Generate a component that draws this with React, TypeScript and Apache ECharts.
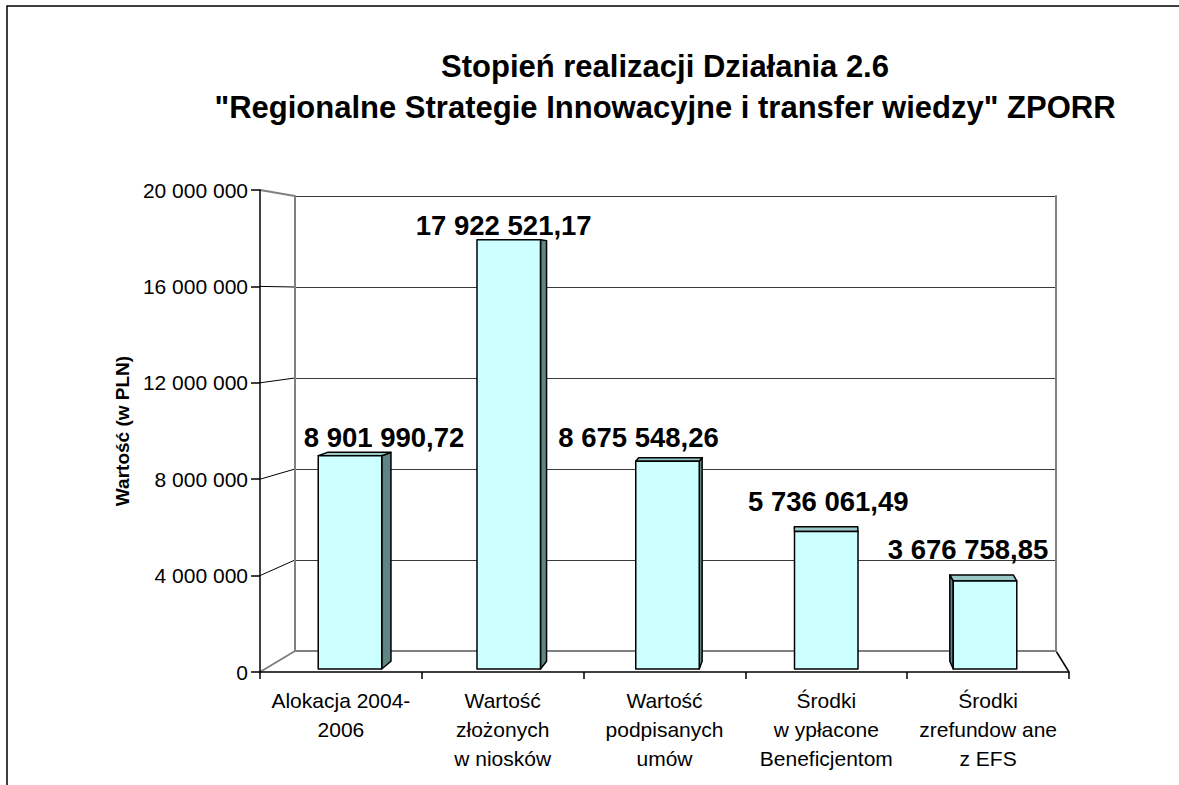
import React, { useEffect, useRef } from "react";
import * as echarts from "echarts";

// ---- data ----
const categories = [
  "Alokacja 2004-\n2006",
  "Wartość\nzłożonych\nw niosków",
  "Wartość\npodpisanych\numów",
  "Środki\nw ypłacone\nBeneficjentom",
  "Środki\nzrefundow ane\nz EFS",
];
const values = [8901990.72, 17922521.17, 8675548.26, 5736061.49, 3676758.85];
const yTicks = [0, 4000000, 8000000, 12000000, 16000000, 20000000];
const Y_MIN = 0;
const Y_MAX = 20000000;
const Y_INTERVAL = 4000000;
const TITLE =
  'Stopień realizacji Działania 2.6\n"Regionalne Strategie Innowacyjne i transfer wiedzy" ZPORR';
const Y_NAME = "Wartość (w PLN)";

// ---- styling / layout ----
const W = 1179;
const H = 785;
const FONT = "'Liberation Sans', Arial, sans-serif";
const GRID_FRONT = { left: 260, right: W - 1069, top: 190, bottom: H - 672 };
const GRID_BACK = { left: 295, right: W - 1056, top: 196, bottom: H - 651 };
const GRID_BARS = { left: 270.6, right: 114.6, top: 190, bottom: H - 669 };
const LABEL_DX = [34, -5, -29, 2, -17];
const LABEL_DY = [-18, -14, -24, -30, -31];
const VP_X = 812;
const VP_Y = 283;
const DEPTH_K = 0.02;
const FRONT_COLOR = "#CCFFFF";
const SIDE_COLOR = "#5F8585";
const TOP_COLOR = "#99C8C8";
const EDGE_GRAY = "#808080";

function groupInt(s: string) {
  return s.replace(/\B(?=(\d{3})+(?!\d))/g, " ");
}
function fmtTick(v: number) {
  return groupInt(String(Math.round(v)));
}
function fmtValue(v: number) {
  const [i, d] = v.toFixed(2).split(".");
  return groupInt(i) + "," + d;
}

export default function App() {
  const ref = useRef<HTMLDivElement>(null);
  useEffect(() => {
    if (!ref.current) return;
    const chart = echarts.init(ref.current, null, { renderer: "svg" });
    const hiddenAxis = {
      axisLine: { show: false },
      axisTick: { show: false },
      axisLabel: { show: false },
      splitLine: { show: false },
    };
    const option: any = {
      animation: false,
      backgroundColor: "#ffffff",
      title: {
        text: TITLE,
        left: 660,
        top: 41,
        textAlign: "center",
        textStyle: {
          fontFamily: FONT,
          fontSize: 31,
          fontWeight: "bold",
          color: "#000",
          lineHeight: 41,
        },
      },
      grid: [
        { ...GRID_FRONT },
        { ...GRID_BACK },
        { ...GRID_BARS },
      ],
      xAxis: [
        {
          gridIndex: 0,
          type: "category",
          data: categories,
          boundaryGap: true,
          axisLine: { show: true, lineStyle: { color: "#000", width: 1.5 } },
          axisTick: { show: true, length: 7, lineStyle: { color: "#000", width: 1.5 } },
          axisLabel: {
            fontFamily: FONT,
            fontSize: 21,
            color: "#000",
            lineHeight: 29,
            margin: 14,
            interval: 0,
          },
          splitLine: { show: false },
        },
        {
          gridIndex: 1,
          type: "category",
          data: categories,
          position: "bottom",
          ...hiddenAxis,
          axisLine: { show: true, lineStyle: { color: EDGE_GRAY, width: 2 } },
        },
        {
          gridIndex: 1,
          type: "category",
          data: categories,
          position: "top",
          ...hiddenAxis,
          axisLine: { show: true, lineStyle: { color: EDGE_GRAY, width: 2 } },
        },
        {
          gridIndex: 2,
          type: "category",
          data: categories,
          show: false,
        },
      ],
      yAxis: [
        {
          gridIndex: 0,
          type: "value",
          min: Y_MIN,
          max: Y_MAX,
          interval: Y_INTERVAL,
          name: Y_NAME,
          nameLocation: "middle",
          nameGap: 122,
          nameRotate: 90,
          nameTextStyle: {
            fontFamily: FONT,
            fontSize: 19,
            fontWeight: "bold",
            color: "#000",
          },
          axisLine: { show: true, lineStyle: { color: "#000", width: 1.5 } },
          axisTick: { show: true, length: 9, lineStyle: { color: "#000", width: 1.5 } },
          axisLabel: {
            fontFamily: FONT,
            fontSize: 21,
            color: "#000",
            margin: 12,
            formatter: (v: number) => fmtTick(v),
          },
          splitLine: { show: false },
        },
        {
          gridIndex: 1,
          type: "value",
          min: Y_MIN,
          max: Y_MAX,
          interval: Y_INTERVAL,
          position: "left",
          axisLine: { show: true, lineStyle: { color: EDGE_GRAY, width: 2 } },
          axisTick: { show: false },
          axisLabel: { show: false },
          splitLine: { show: true, lineStyle: { color: "#3a3a3a", width: 1 } },
        },
        {
          gridIndex: 1,
          type: "value",
          min: Y_MIN,
          max: Y_MAX,
          interval: Y_INTERVAL,
          position: "right",
          axisLine: { show: true, lineStyle: { color: EDGE_GRAY, width: 2 } },
          axisTick: { show: false },
          axisLabel: { show: false },
          splitLine: { show: false },
        },
        {
          gridIndex: 2,
          type: "value",
          min: Y_MIN,
          max: Y_MAX,
          interval: Y_INTERVAL,
          show: false,
        },
      ],
      series: [
        {
          type: "custom",
          xAxisIndex: 3,
          yAxisIndex: 3,
          data: values.map((v, i) => [i, v]),
          z: 5,
          renderItem: (params: any, api: any) => {
            const i = api.value(0);
            const v = api.value(1);
            const top = api.coord([i, v]);
            const base = api.coord([i, 0]);
            const w = api.size([1, 0])[0] * 0.4;
            const xl = top[0] - w / 2;
            const xr = top[0] + w / 2;
            const yt = top[1];
            const yb = base[1];
            const dx = DEPTH_K * (VP_X - top[0]);
            const dy = DEPTH_K * (VP_Y - yt);
            const dyb = DEPTH_K * (VP_Y - yb);
            const stroke = { stroke: "#000", lineWidth: 1.5, lineJoin: "round" };
            const children: any[] = [];
            if (dx > 0.5) {
              children.push({
                type: "polygon",
                shape: { points: [[xr, yt], [xr + dx, yt + dy], [xr + dx, yb + dyb], [xr, yb]] },
                style: { fill: SIDE_COLOR, ...stroke },
              });
            } else if (dx < -0.5) {
              children.push({
                type: "polygon",
                shape: { points: [[xl, yt], [xl + dx, yt + dy], [xl + dx, yb + dyb], [xl, yb]] },
                style: { fill: SIDE_COLOR, ...stroke },
              });
            }
            if (dy < -0.5) {
              children.push({
                type: "polygon",
                shape: { points: [[xl, yt], [xr, yt], [xr + dx, yt + dy], [xl + dx, yt + dy]] },
                style: { fill: TOP_COLOR, ...stroke },
              });
            }
            children.push({
              type: "rect",
              shape: { x: xl, y: yt, width: w, height: yb - yt },
              style: { fill: FRONT_COLOR, ...stroke },
            });
            children.push({
              type: "text",
              x: top[0] + LABEL_DX[i],
              y: yt + LABEL_DY[i],
              style: {
                text: fmtValue(v),
                fontFamily: FONT,
                fontSize: 27.5,
                fontWeight: "bold",
                fill: "#000",
                align: "center",
                verticalAlign: "middle",
              },
            });
            return { type: "group", children };
          },
        },
      ],
    };
    chart.setOption(option);

    // decorative 3D frame: connectors between front axis and back wall
    const frontLeft = GRID_FRONT.left;
    const frontRight = W - GRID_FRONT.right;
    const backLeft = GRID_BACK.left;
    const backRight = W - GRID_BACK.right;
    const graphics: any[] = [];
    yTicks.forEach((v, idx) => {
      const yF = chart.convertToPixel({ yAxisIndex: 0 } as any, v) as number;
      const yB = chart.convertToPixel({ yAxisIndex: 1 } as any, v) as number;
      const edge = idx === 0 || idx === yTicks.length - 1;
      graphics.push({
        type: "line",
        silent: true,
        shape: { x1: frontLeft, y1: yF, x2: backLeft, y2: yB },
        style: { stroke: edge ? EDGE_GRAY : "#000", lineWidth: edge ? 2 : 1 },
      });
    });
    const yF0 = chart.convertToPixel({ yAxisIndex: 0 } as any, 0) as number;
    const yB0 = chart.convertToPixel({ yAxisIndex: 1 } as any, 0) as number;
    graphics.push({
      type: "line",
      silent: true,
      shape: { x1: backRight, y1: yB0, x2: frontRight, y2: yF0 },
      style: { stroke: "#000", lineWidth: 1.5 },
    });
    graphics.push({
      type: "rect",
      silent: true,
      shape: { x: 7, y: 6, width: W + 100, height: H + 100 },
      style: { fill: "none", stroke: "#000", lineWidth: 1.5 },
    });
    chart.setOption({ graphic: graphics });

    return () => chart.dispose();
  }, []);
  return (
    <div
      ref={ref}
      style={{ position: "absolute", left: 0, top: 0, width: W, height: H }}
    />
  );
}
